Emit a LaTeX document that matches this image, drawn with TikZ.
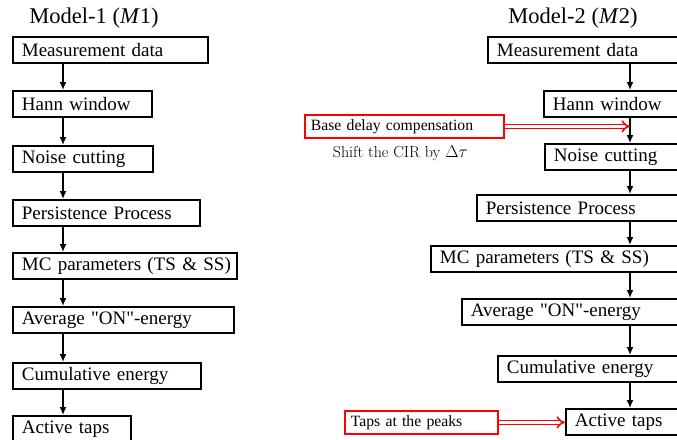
\documentclass[tikz,border=0pt]{standalone}
\usepackage{fontspec}
\newfontfamily\timesfont{Liberation Serif}
\usetikzlibrary{arrows,arrows.meta,positioning}

\begin{document}
\begin{tikzpicture}[x=1pt,y=-1pt]
\tikzset{stage/.style = {draw, line width=1.8pt, anchor=north west, minimum height=26pt, inner xsep=9pt, inner ysep=0pt, align=left, font=\timesfont\fontsize{19}{21}\selectfont}}
\tikzset{note/.style = {draw=red, line width=1.8pt, anchor=north west, minimum height=23pt, inner xsep=6pt, inner ysep=0pt, align=left, font=\timesfont\fontsize{15.7}{18}\selectfont}}
\tikzset{heading/.style = {font=\timesfont\fontsize{22.5}{24}\selectfont}}
\tikzset{edge/.style = {-{Latex[length=8pt,width=7pt]}, line width=1.5pt}}
\tikzset{feed/.style = {draw=red, double=white, double distance=2.4pt, line width=1.6pt, -{Implies}}}
\useasboundingbox (0,0) rectangle (677,439);
\clip (0,0) rectangle (677,439);

\node[heading] (m1) at (94,18) {Model-1 (\textit{M}1)};
\node[heading] (m2) at (573,18) {Model-2 (\textit{M}2)};

% both chains, left one ends inside, right one runs off the edge
\foreach \pos/\name/\w/\txt in {{(12,36)/l1/177/Measurement data}, {(12,90)/l2/121/Hann window},
  {(12,145)/l3/122/Noise cutting}, {(12,199)/l4/169/Persistence Process},
  {(12,252)/l5/206/MC parameters (TS \& SS)}, {(12,306)/l6/203/Average "ON"-energy},
  {(12,362)/l7/170/Cumulative energy}, {(12,415)/l8/100/Active taps}}
\node[stage, text width=\w pt] (\name) at \pos {\mbox{\txt}};

\foreach \pos/\name/\w/\txt in {{(487,36)/r1/240/Measurement data}, {(543,90)/r2/200/Hann window},
  {(544,143)/r3/200/Noise cutting}, {(476,194)/r4/240/Persistence Process},
  {(430,245)/r5/280/MC parameters (TS \& SS)}, {(461,298)/r6/250/Average "ON"-energy},
  {(497,355)/r7/220/Cumulative energy}, {(565,408)/r8/150/Active taps}}
\node[stage, text width=\w pt] (\name) at \pos {\mbox{\txt}};

\coordinate (lax) at (63,0);
\coordinate (rax) at (630,0);

\foreach \from/\to in {1/2,2/3,3/4,4/5,5/6,6/7,7/8}{
\draw[edge] (l\from.south -| lax) -- (l\to.north -| lax);
\draw[edge] (r\from.south -| rax) -- (r\to.north -| rax);
}

% extra steps of the second model
\node[note, text width=187pt] (delay) at (304,114) {Base delay compensation};
\node[below=3pt of delay, xshift=-4pt, font=\fontsize{16}{18}\selectfont] (shift) {Shift the CIR by $\Delta\tau$};
\node[note, text width=141pt] (peaks) at (344,410) {Taps at the peaks};

\draw[feed] (delay.east) -- (delay.east -| rax);
\draw[feed] (peaks.east) -- (peaks.east -| r8.west);
\end{tikzpicture}
\end{document}
